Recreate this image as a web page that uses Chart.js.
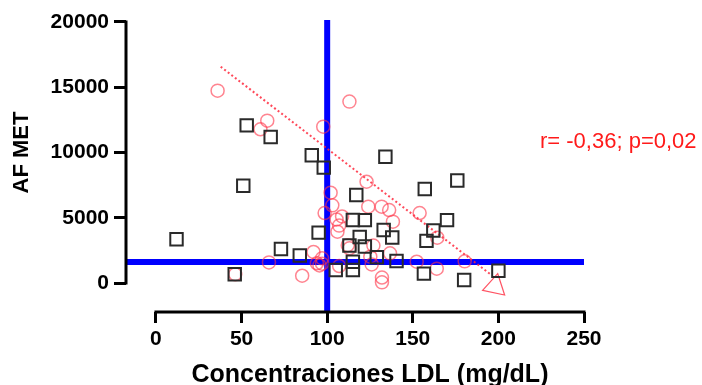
<!DOCTYPE html>
<html>
<head>
<meta charset="utf-8">
<script src="https://cdn.jsdelivr.net/npm/chart.js"></script>
<style>
  html, body { margin: 0; padding: 0; background: #fff; }
  #wrap { width: 702px; height: 385px; }
</style>
</head>
<body>
<div id="wrap"><canvas id="grafico"></canvas></div>
<script>
// Datos
const ldlGrupo1 = [12, 46, 51, 53, 67, 73, 84, 91, 95, 98, 105, 113, 115, 115, 115, 117, 119, 122, 122, 129, 133, 134, 138, 140.5, 156.5, 157, 158, 162, 170, 176, 180, 200];
const afGrupo1 = [3350, 670, 7450, 12080, 11190, 2600, 2100, 9790, 3860, 8840, 1000, 2870, 1630, 1000, 4830, 6740, 3520, 4820, 2800, 1970, 4060, 9680, 3490, 1690, 720, 7200, 3230, 4030, 4820, 7850, 230, 940];

const ldlGrupo2 = [36, 61, 65, 97.7, 113, 102, 103, 98.5, 105.5, 108.7, 107, 106, 112, 113, 92, 97, 94, 97, 95.5, 66, 85.4, 46.3, 107, 123, 124, 131.8, 136.2, 138.4, 154, 164.3, 127, 136.7, 125.2, 126, 152.3, 180.3, 164, 132, 132];
const afGrupo2 = [14740, 11780, 12440, 11980, 13900, 6920, 5950, 5360, 4870, 5100, 4400, 3930, 2900, 2660, 2380, 1890, 1510, 1480, 1350, 1580, 560, 667, 1300, 7760, 5850, 5850, 5590, 4700, 5360, 3470, 2870, 2275, 2015, 1420, 1632, 1660, 1100, 420, 50];

// Recta de tendencia (inicio y fin) y su flecha
const tendenciaX = [37.8, 196];
const tendenciaY = [16575, 600];
const flechaX = [198];
const flechaY = [-250];

// Lineas de corte azules
const corteLDL = 100;
const corteAF = 1600;

const ticksX = [0, 50, 100, 150, 200, 250];
const ticksY = [0, 5000, 10000, 15000, 20000];

const textoX = "Concentraciones LDL (mg/dL)";
const textoY = "AF MET";
const textoR = "r= -0,36; p=0,02";

// Rangos de los ejes (dejan el hueco entre ejes y el cero)
const xMin = -17.5, xMax = 250;
const yMin = -2222, yMax = 20153;

const fuente = "'Liberation Sans', Arial, sans-serif";

function puntos(xs, ys) {
  return xs.map((x, i) => ({ x: x, y: ys[i] }));
}

// Plugin que pinta las lineas de los ejes y los titulos
const ejesPlugin = {
  id: "ejes",
  afterDraw(chart) {
    const ctx = chart.ctx;
    const x = chart.scales.x;
    const y = chart.scales.y;
    const area = chart.chartArea;
    ctx.save();
    ctx.strokeStyle = "#000";
    ctx.lineWidth = 3;
    ctx.beginPath();
    ctx.moveTo(area.left, y.getPixelForValue(20000) - 1.5);
    ctx.lineTo(area.left, y.getPixelForValue(0) + 1.5);
    ctx.stroke();
    ctx.beginPath();
    ctx.moveTo(x.getPixelForValue(0) - 1.5, area.bottom);
    ctx.lineTo(x.getPixelForValue(250) + 1.5, area.bottom);
    ctx.stroke();

    ctx.fillStyle = "#000";
    ctx.font = "bold 25px " + fuente;
    ctx.textAlign = "center";
    ctx.textBaseline = "alphabetic";
    ctx.fillText(textoX, (x.getPixelForValue(0) + x.getPixelForValue(250)) / 2, 382);

    ctx.save();
    ctx.translate(22, (y.getPixelForValue(0) + y.getPixelForValue(20000)) / 2);
    ctx.rotate(-Math.PI / 2);
    ctx.font = "bold 22px " + fuente;
    ctx.textBaseline = "middle";
    ctx.fillText(textoY, 0, 0);
    ctx.restore();

    ctx.fillStyle = "#ff1a1a";
    ctx.font = "22px " + fuente;
    ctx.textAlign = "left";
    ctx.fillText(textoR, 540, 148);
    ctx.restore();
  },
};

new Chart(document.getElementById("grafico"), {
  type: "scatter",
  data: {
    datasets: [
      {
        data: puntos(ldlGrupo1, afGrupo1),
        pointStyle: "rect",
        pointRadius: 8.8,
        borderColor: "#2a2a2a",
        borderWidth: 2,
        backgroundColor: "transparent",
      },
      {
        data: puntos(ldlGrupo2, afGrupo2),
        pointStyle: "circle",
        pointRadius: 6.5,
        borderColor: "rgba(255, 50, 70, 0.6)",
        borderWidth: 1.5,
        backgroundColor: "transparent",
      },
      {
        data: puntos(tendenciaX, tendenciaY),
        showLine: true,
        pointRadius: 0,
        borderColor: "rgba(255, 40, 60, 0.85)",
        borderWidth: 2,
        borderDash: [2, 2.5],
      },
      {
        data: puntos(flechaX, flechaY),
        pointStyle: "triangle",
        pointRadius: 13,
        rotation: 12,
        borderColor: "rgba(255, 40, 60, 0.8)",
        borderWidth: 1.2,
        backgroundColor: "transparent",
      },
      {
        data: [{ x: corteLDL, y: yMin }, { x: corteLDL, y: yMax }],
        showLine: true,
        pointRadius: 0,
        borderColor: "#0000ff",
        borderWidth: 6,
      },
      {
        data: [{ x: xMin, y: corteAF }, { x: xMax, y: corteAF }],
        showLine: true,
        pointRadius: 0,
        borderColor: "#0000ff",
        borderWidth: 6,
      },
    ],
  },
  options: {
    responsive: true,
    maintainAspectRatio: false,
    animation: false,
    layout: { padding: { top: 20, right: 118, bottom: 0, left: 0 } },
    plugins: {
      legend: { display: false },
      tooltip: { enabled: false },
    },
    scales: {
      x: {
        type: "linear",
        min: xMin,
        max: xMax,
        afterBuildTicks: (scale) => {
          scale.ticks = ticksX.map((v) => ({ value: v }));
        },
        afterFit: (scale) => {
          scale.height = 73;
        },
        border: { display: false },
        grid: {
          drawOnChartArea: false,
          drawTicks: true,
          tickLength: 11,
          tickWidth: 3,
          tickColor: "#000",
        },
        ticks: {
          color: "#000",
          padding: 4,
          maxRotation: 0,
          callback: (v) => String(v),
          font: { family: fuente, size: 21, weight: "bold" },
        },
      },
      y: {
        type: "linear",
        min: yMin,
        max: yMax,
        afterBuildTicks: (scale) => {
          scale.ticks = ticksY.map((v) => ({ value: v }));
        },
        afterFit: (scale) => {
          scale.width = 126;
        },
        border: { display: false },
        grid: {
          drawOnChartArea: false,
          drawTicks: true,
          tickLength: 12,
          tickWidth: 3,
          tickColor: "#000",
        },
        ticks: {
          color: "#000",
          padding: 5,
          callback: (v) => String(v),
          font: { family: fuente, size: 21, weight: "bold" },
        },
      },
    },
  },
  plugins: [ejesPlugin],
});
</script>
</body>
</html>
